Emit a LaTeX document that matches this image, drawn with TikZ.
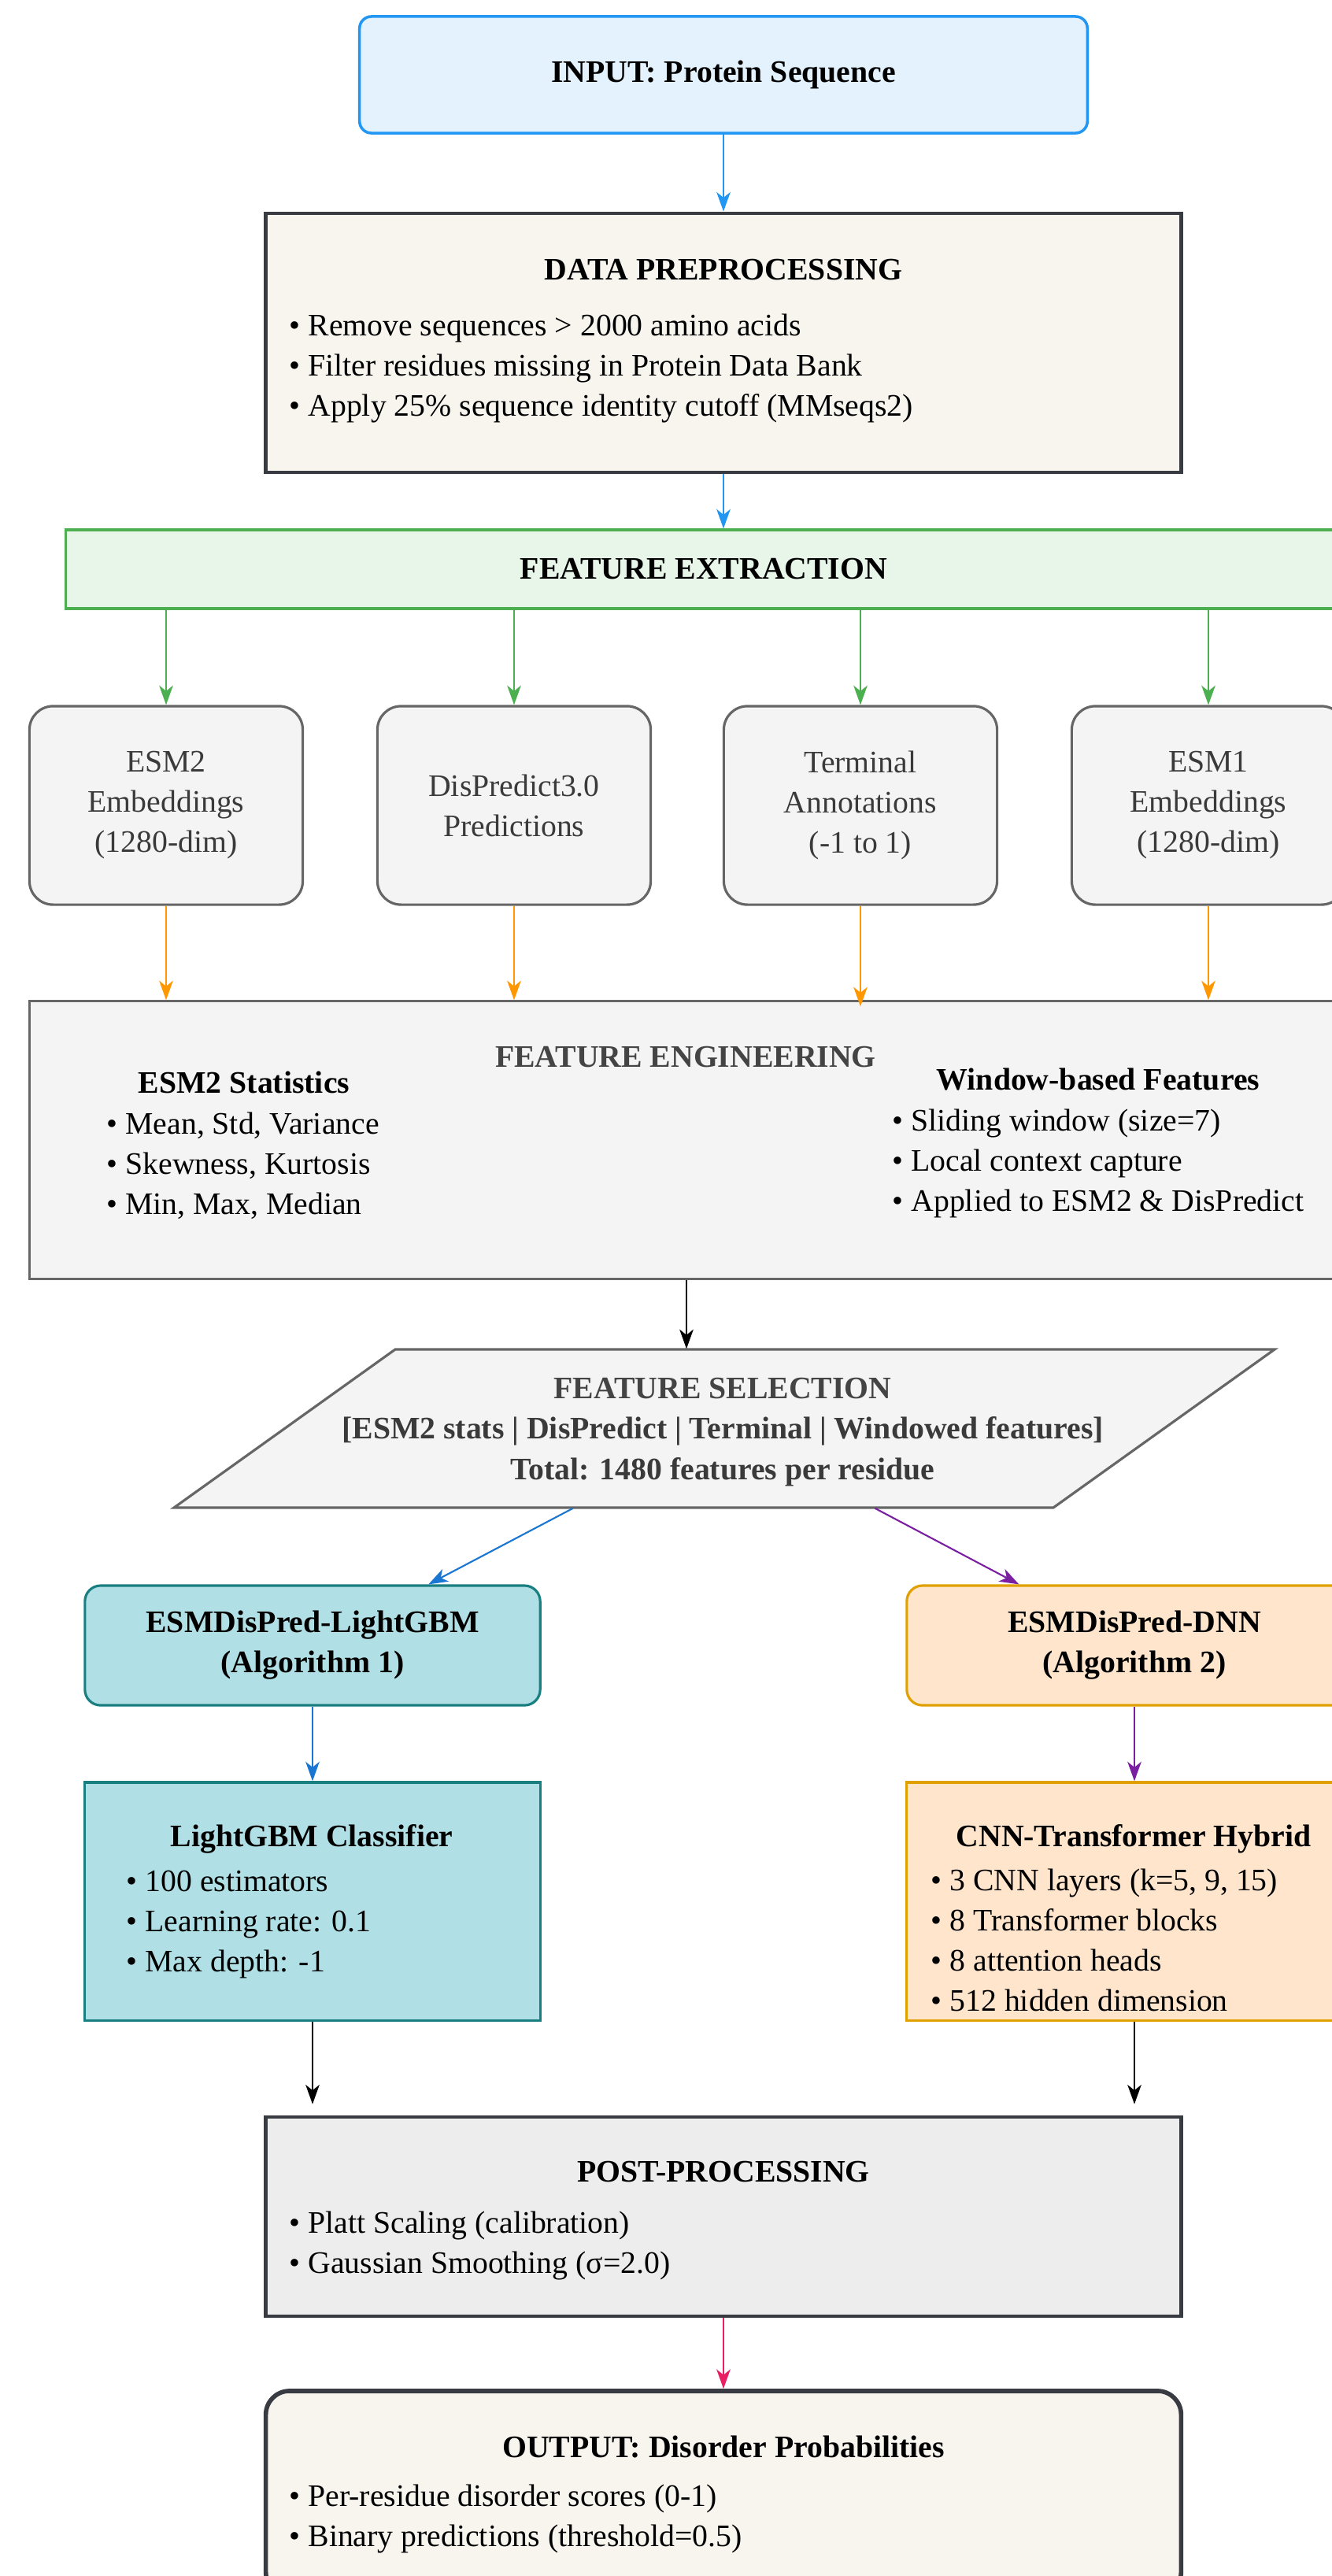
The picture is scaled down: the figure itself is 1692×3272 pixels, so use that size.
\documentclass[tikz,border=0pt]{standalone}
\usepackage{fontspec}
\setmainfont{Liberation Serif}
\usetikzlibrary{arrows.meta}

\definecolor{inblue}{HTML}{2196F3}
\definecolor{inbg}{HTML}{E3F2FD}
\definecolor{darkline}{HTML}{383C42}
\definecolor{beige}{HTML}{F7F5EE}
\definecolor{fegreen}{HTML}{4CAF50}
\definecolor{febg}{HTML}{E8F5E9}
\definecolor{gline}{HTML}{666666}
\definecolor{gbg}{HTML}{F4F4F4}
\definecolor{gtext}{HTML}{3A3A3A}
\definecolor{engtitle}{HTML}{444444}
\definecolor{arrorange}{HTML}{FF9800}
\definecolor{arrblue}{HTML}{1976D2}
\definecolor{arrpurple}{HTML}{7B1FA2}
\definecolor{tealline}{HTML}{1A7F80}
\definecolor{tealbg}{HTML}{B0E0E6}
\definecolor{goldline}{HTML}{E0A100}
\definecolor{peach}{HTML}{FFE5CC}
\definecolor{postbg}{HTML}{EDEDED}
\definecolor{arrpink}{HTML}{E91E63}

\newcommand{\boxfont}{\fontsize{11.3}{14.5}\selectfont}

\begin{document}
\begin{tikzpicture}[x=0.01cm,y=-0.01cm]

\tikzset{box/.style = {draw, line width=0.9pt, inner sep=0pt, font=\boxfont}}
\tikzset{title/.style = {inner sep=0pt, font=\boxfont\bfseries, anchor=base}}
%items sit on the baseline of their last line
\tikzset{items/.style = {inner sep=0pt, font=\boxfont, align=left, anchor=base west}}
\tikzset{featbox/.style = {box, draw=gline, fill=gbg, text=gtext, rounded corners=0.3cm, align=center, minimum width=3.47cm, minimum height=2.52cm}}
\tikzset{lgbmbox/.style = {box, draw=tealline, fill=tealbg}}
\tikzset{dnnbox/.style = {box, draw=goldline, fill=peach}}
\tikzset{edge/.style = {-{Stealth[length=7pt,width=5pt,inset=2pt]}, line width=0.6pt}}

\path[use as bounding box, fill=white] (0,0) rectangle (1692,3272);
\clip (0,0) rectangle (1692,3272);

%input and preprocessing
\node[box, draw=inblue, fill=inbg, line width=1pt, rounded corners=0.15cm, minimum width=9.24cm, minimum height=1.48cm, font=\boxfont\bfseries] (input) at (919,95) {INPUT: Protein Sequence};
\node[box, draw=darkline, fill=beige, line width=1.3pt, minimum width=11.62cm, minimum height=3.29cm] (prep) at (919,435.5) {};
\node[title] (prept) at (919,355) {DATA PREPROCESSING};
\node[items] (prepi) at (367,528) {• Remove sequences > 2000 amino acids\\• Filter residues missing in Protein Data Bank\\• Apply 25\% sequence identity cutoff (MMseqs2)};

%feature extraction
\node[box, draw=fegreen, fill=febg, minimum width=16.2cm, minimum height=1cm, font=\boxfont\bfseries] (fext) at (894,723) {FEATURE EXTRACTION};
\node[featbox] (esm2) at (211,1023) {ESM2\\Embeddings\\(1280-dim)};
\node[featbox] (disp) at (653,1023) {DisPredict3.0\\Predictions};
\node[featbox] (term) at (1093,1023) {Terminal\\Annotations\\(-1 to 1)};
\node[featbox] (esm1) at (1535,1023) {ESM1\\Embeddings\\(1280-dim)};

%feature engineering
\node[box, draw=gline, fill=gbg, minimum width=16.68cm, minimum height=3.52cm] (feng) at (872,1448) {};
\node[title, text=engtitle] (fengt) at (871,1355) {FEATURE ENGINEERING};
\node[title] (statt) at (310,1388) {ESM2 Statistics};
\node[items] (stati) at (135,1542) {• Mean, Std, Variance\\• Skewness, Kurtosis\\• Min, Max, Median};
\node[title] (wint) at (1395,1384) {Window-based Features};
\node[items] (wini) at (1133,1538) {• Sliding window (size=7)\\• Local context capture\\• Applied to ESM2 \& DisPredict};

%feature selection
\draw[draw=gline, fill=gbg, line width=0.9pt] (221,1915) -- (502,1714) -- (1619,1714) -- (1338,1915) -- cycle;
\node[inner sep=0pt, minimum width=11.17cm, minimum height=2.01cm] (sel) at (920,1814.5) {};
\node[title, text=engtitle] (selt) at (918,1776) {FEATURE SELECTION};
\node[title, text=gtext] (sela) at (918,1827) {[ESM2 stats | DisPredict | Terminal | Windowed features]};
\node[title, text=gtext] (selb) at (918,1879) {Total: 1480 features per residue};

%two algorithms
\node[lgbmbox, rounded corners=0.2cm, align=center, font=\boxfont\bfseries, minimum width=5.78cm, minimum height=1.52cm] (lgbm) at (397,2090) {ESMDisPred-LightGBM\\(Algorithm 1)};
\node[dnnbox, rounded corners=0.2cm, align=center, font=\boxfont\bfseries, minimum width=5.78cm, minimum height=1.52cm] (dnn) at (1441,2090) {ESMDisPred-DNN\\(Algorithm 2)};
\node[lgbmbox, minimum width=5.79cm, minimum height=3.02cm] (clf) at (397,2415) {};
\node[title] (clft) at (396,2345) {LightGBM Classifier};
\node[items] (clfi) at (160,2504) {• 100 estimators\\• Learning rate: 0.1\\• Max depth: -1};
\node[dnnbox, minimum width=5.78cm, minimum height=3.02cm] (cnn) at (1441,2415) {};
\node[title] (cnnt) at (1440,2345) {CNN-Transformer Hybrid};
\node[items] (cnni) at (1182,2554) {• 3 CNN layers (k=5, 9, 15)\\• 8 Transformer blocks\\• 8 attention heads\\• 512 hidden dimension};

%post-processing and output
\node[box, draw=darkline, fill=postbg, line width=1.3pt, minimum width=11.62cm, minimum height=2.53cm] (post) at (919,2815.5) {};
\node[title] (postt) at (919,2771) {POST-PROCESSING};
\node[items] (posti) at (367,2887) {• Platt Scaling (calibration)\\• Gaussian Smoothing (σ=2.0)};
\node[box, draw=darkline, fill=beige, line width=1.6pt, rounded corners=0.3cm, minimum width=11.62cm, minimum height=2.6cm] (out) at (919,3167) {};
\node[title] (outt) at (919,3121) {OUTPUT: Disorder Probabilities};
\node[items] (outi) at (367,3234) {• Per-residue disorder scores (0-1)\\• Binary predictions (threshold=0.5)};

%edges
\draw[edge, inblue] (input) -- (prep);
\draw[edge, inblue] (prep) -- (prep |- fext.north);
\draw[edge, fegreen] (esm2 |- fext.south) -- (esm2);
\draw[edge, fegreen] (disp |- fext.south) -- (disp);
\draw[edge, fegreen] (term |- fext.south) -- (term);
\draw[edge, fegreen] (esm1 |- fext.south) -- (esm1);
\draw[edge, arrorange] (esm2) -- (esm2 |- feng.north);
\draw[edge, arrorange] (disp) -- (disp |- feng.north);
\draw[edge, arrorange, shorten >=-0.08cm] (term) -- (term |- feng.north);
\draw[edge, arrorange] (esm1) -- (esm1 |- feng.north);
\draw[edge, line width=0.45pt] (feng.south) -- (feng.south |- sel.north);
\draw[edge, arrblue] (sel) -- (lgbm);
\draw[edge, arrpurple] (sel) -- (dnn);
\draw[edge, arrblue] (lgbm) -- (clf);
\draw[edge, arrpurple] (dnn) -- (cnn);
\draw[edge, line width=0.45pt, shorten >=0.14cm] (clf) -- (clf |- post.north);
\draw[edge, line width=0.45pt, shorten >=0.14cm] (cnn) -- (cnn |- post.north);
\draw[edge, arrpink] (post) -- (out);

\end{tikzpicture}
\end{document}
